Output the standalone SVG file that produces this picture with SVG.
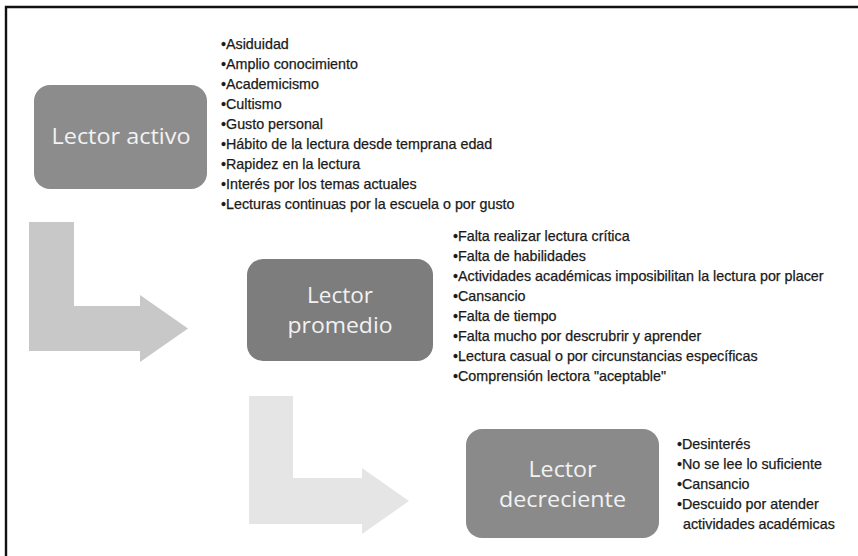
<svg xmlns="http://www.w3.org/2000/svg" width="858" height="556" viewBox="0 0 858 556">
<style>
.node rect{stroke:none}
.lbl{font-family:"Open Sans","Liberation Sans",sans-serif;font-size:22px;fill:#f2f2f2;text-anchor:middle}
.list{font-family:"Liberation Sans",Arial,sans-serif;font-size:14.3px;fill:#1a1a1a;stroke:#1a1a1a;stroke-width:0.25}
</style>
<rect x="0" y="0" width="858" height="556" fill="#ffffff"/>
<path d="M6,560 V7 H862" fill="none" stroke="#111111" stroke-width="2.4"/>
<g id="connectors">
<polygon points="29,222 74,222 74,306 140,306 140,295 188,328.5 140,362 140,351 29,351" fill="#c8c8c8"/>
<polygon points="249,396 293,396 293,478 362,478 362,468 409,501 362,534 362,524 249,524" fill="#e5e5e5"/>
</g>
<g id="lector-activo" class="node">
<rect x="34" y="85" width="173" height="104" rx="16" fill="#8c8c8c"/>
<text class="lbl" x="121" y="144" textLength="139" lengthAdjust="spacingAndGlyphs">Lector activo</text>
</g>
<g id="lista-activo" class="list">
<text x="221" y="49">•Asiduidad</text>
<text x="221" y="69">•Amplio conocimiento</text>
<text x="221" y="89">•Academicismo</text>
<text x="221" y="109">•Cultismo</text>
<text x="221" y="129">•Gusto personal</text>
<text x="221" y="149">•Hábito de la lectura desde temprana edad</text>
<text x="221" y="169">•Rapidez en la lectura</text>
<text x="221" y="189">•Interés por los temas actuales</text>
<text x="221" y="209">•Lecturas continuas por la escuela o por gusto</text>
</g>
<g id="lector-promedio" class="node">
<rect x="247" y="259" width="186" height="102" rx="16" fill="#7d7d7d"/>
<text class="lbl" x="340" y="303" textLength="66" lengthAdjust="spacingAndGlyphs">Lector</text>
<text class="lbl" x="340" y="333" textLength="105" lengthAdjust="spacingAndGlyphs">promedio</text>
</g>
<g id="lista-promedio" class="list">
<text x="453" y="241">•Falta realizar lectura crítica</text>
<text x="453" y="261">•Falta de habilidades</text>
<text x="453" y="281">•Actividades académicas imposibilitan la lectura por placer</text>
<text x="453" y="301">•Cansancio</text>
<text x="453" y="321">•Falta de tiempo</text>
<text x="453" y="341">•Falta mucho por descrubrir y aprender</text>
<text x="453" y="361">•Lectura casual o por circunstancias específicas</text>
<text x="453" y="381">•Comprensión lectora "aceptable"</text>
</g>
<g id="lector-decreciente" class="node">
<rect x="466" y="429" width="193" height="109" rx="16" fill="#8a8a8a"/>
<text class="lbl" x="562.5" y="477" textLength="68" lengthAdjust="spacingAndGlyphs">Lector</text>
<text class="lbl" x="562.5" y="507" textLength="127" lengthAdjust="spacingAndGlyphs">decreciente</text>
</g>
<g id="lista-decreciente" class="list">
<text x="677" y="449">•Desinterés</text>
<text x="677" y="469">•No se lee lo suficiente</text>
<text x="677" y="489">•Cansancio</text>
<text x="677" y="509">•Descuido por atender</text>
<text x="683" y="529">actividades académicas</text>
</g>
</svg>
